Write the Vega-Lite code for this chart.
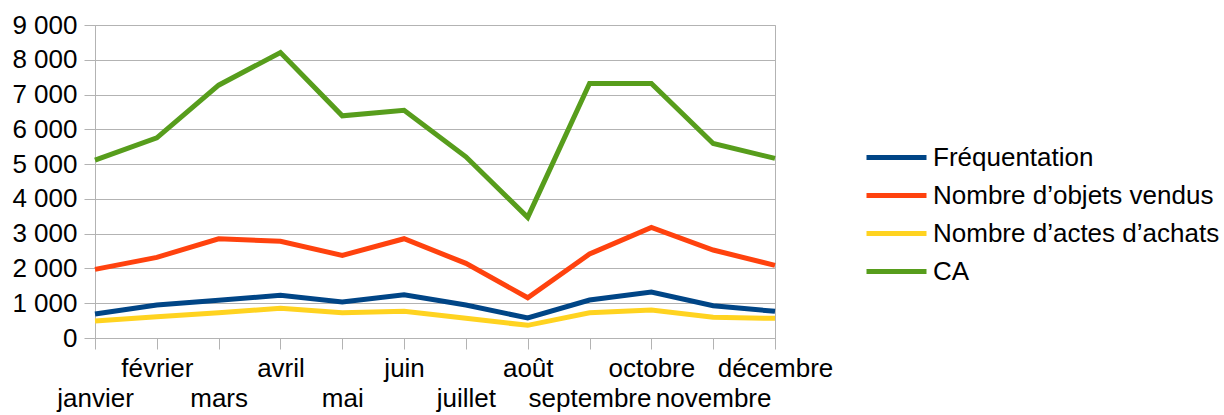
{
  "$schema": "https://vega.github.io/schema/vega-lite/v6.json",
  "autosize": "none",
  "width": 680,
  "height": 313,
  "padding": {"left": 95, "top": 25, "right": 449, "bottom": 77},
  "background": "white",
  "config": {
    "font": "Liberation Sans",
    "view": {"stroke": "#b3b3b3", "strokeWidth": 1},
    "axis": {"labelFont": "Liberation Sans", "labelFontSize": 26, "labelColor": "#000000", "domainColor": "#b3b3b3", "tickColor": "#b3b3b3", "gridColor": "#b3b3b3", "tickSize": 11, "title": null}
  },
  "data": {
    "values": [
      {"mois": "janvier", "serie": "Fréquentation", "valeur": 690},
      {"mois": "février", "serie": "Fréquentation", "valeur": 948},
      {"mois": "mars", "serie": "Fréquentation", "valeur": 1083},
      {"mois": "avril", "serie": "Fréquentation", "valeur": 1226},
      {"mois": "mai", "serie": "Fréquentation", "valeur": 1034},
      {"mois": "juin", "serie": "Fréquentation", "valeur": 1245},
      {"mois": "juillet", "serie": "Fréquentation", "valeur": 948},
      {"mois": "août", "serie": "Fréquentation", "valeur": 575},
      {"mois": "septembre", "serie": "Fréquentation", "valeur": 1092},
      {"mois": "octobre", "serie": "Fréquentation", "valeur": 1322},
      {"mois": "novembre", "serie": "Fréquentation", "valeur": 929},
      {"mois": "décembre", "serie": "Fréquentation", "valeur": 766},
      {"mois": "janvier", "serie": "Nombre d’objets vendus", "valeur": 1974},
      {"mois": "février", "serie": "Nombre d’objets vendus", "valeur": 2319},
      {"mois": "mars", "serie": "Nombre d’objets vendus", "valeur": 2854},
      {"mois": "avril", "serie": "Nombre d’objets vendus", "valeur": 2779},
      {"mois": "mai", "serie": "Nombre d’objets vendus", "valeur": 2376},
      {"mois": "juin", "serie": "Nombre d’objets vendus", "valeur": 2854},
      {"mois": "juillet", "serie": "Nombre d’objets vendus", "valeur": 2146},
      {"mois": "août", "serie": "Nombre d’objets vendus", "valeur": 1158},
      {"mois": "septembre", "serie": "Nombre d’objets vendus", "valeur": 2414},
      {"mois": "octobre", "serie": "Nombre d’objets vendus", "valeur": 3180},
      {"mois": "novembre", "serie": "Nombre d’objets vendus", "valeur": 2529},
      {"mois": "décembre", "serie": "Nombre d’objets vendus", "valeur": 2089},
      {"mois": "janvier", "serie": "Nombre d’actes d’achats", "valeur": 489},
      {"mois": "février", "serie": "Nombre d’actes d’achats", "valeur": 613},
      {"mois": "mars", "serie": "Nombre d’actes d’achats", "valeur": 728},
      {"mois": "avril", "serie": "Nombre d’actes d’achats", "valeur": 853},
      {"mois": "mai", "serie": "Nombre d’actes d’achats", "valeur": 728},
      {"mois": "juin", "serie": "Nombre d’actes d’achats", "valeur": 766},
      {"mois": "juillet", "serie": "Nombre d’actes d’achats", "valeur": 565},
      {"mois": "août", "serie": "Nombre d’actes d’achats", "valeur": 364},
      {"mois": "septembre", "serie": "Nombre d’actes d’achats", "valeur": 728},
      {"mois": "octobre", "serie": "Nombre d’actes d’achats", "valeur": 805},
      {"mois": "novembre", "serie": "Nombre d’actes d’achats", "valeur": 594},
      {"mois": "décembre", "serie": "Nombre d’actes d’achats", "valeur": 565},
      {"mois": "janvier", "serie": "CA", "valeur": 5115},
      {"mois": "février", "serie": "CA", "valeur": 5756},
      {"mois": "mars", "serie": "CA", "valeur": 7270},
      {"mois": "avril", "serie": "CA", "valeur": 8210},
      {"mois": "mai", "serie": "CA", "valeur": 6388},
      {"mois": "juin", "serie": "CA", "valeur": 6550},
      {"mois": "juillet", "serie": "CA", "valeur": 5210},
      {"mois": "août", "serie": "CA", "valeur": 3468},
      {"mois": "septembre", "serie": "CA", "valeur": 7318},
      {"mois": "octobre", "serie": "CA", "valeur": 7318},
      {"mois": "novembre", "serie": "CA", "valeur": 5594},
      {"mois": "décembre", "serie": "CA", "valeur": 5163}
    ]
  },
  "mark": {"type": "line", "strokeWidth": 5, "strokeJoin": "miter"},
  "encoding": {
    "x": {
      "field": "mois",
      "type": "ordinal",
      "sort": ["janvier", "février", "mars", "avril", "mai", "juin", "juillet", "août", "septembre", "octobre", "novembre", "décembre"],
      "scale": {"type": "point", "padding": 0},
      "axis": {
        "labelAngle": 0,
        "labelPadding": 27,
        "labelLineHeight": 30,
        "labelBaseline": "alphabetic",
        "grid": false,
        "labelOverlap": false,
        "labelExpr": "indexof(['janvier','février','mars','avril','mai','juin','juillet','août','septembre','octobre','novembre','décembre'], datum.value) % 2 == 0 ? ['', datum.value] : [datum.value]"
      }
    },
    "y": {
      "field": "valeur",
      "type": "quantitative",
      "scale": {"domain": [0, 9000], "nice": false},
      "axis": {
        "values": [0, 1000, 2000, 3000, 4000, 5000, 6000, 7000, 8000, 9000],
        "labelPadding": 7,
        "labelExpr": "replace(format(datum.value, ','), ',', ' ')",
        "domain": true
      }
    },
    "color": {
      "field": "serie",
      "type": "nominal",
      "sort": ["Fréquentation", "Nombre d’objets vendus", "Nombre d’actes d’achats", "CA"],
      "scale": {
        "domain": ["Fréquentation", "Nombre d’objets vendus", "Nombre d’actes d’achats", "CA"],
        "range": ["#004586", "#ff420e", "#ffd320", "#579d1c"]
      },
      "legend": {
        "title": null,
        "orient": "none",
        "legendX": 769,
        "legendY": 115,
        "padding": 0,
        "symbolType": "M-1,0H3",
        "symbolSize": 900,
        "symbolStrokeWidth": 5,
        "symbolFillColor": "transparent",
        "labelFontSize": 26,
        "labelFont": "Liberation Sans",
        "labelColor": "#000000",
        "labelLimit": 400,
        "labelOffset": 34,
        "rowPadding": 7
      }
    }
  }
}
